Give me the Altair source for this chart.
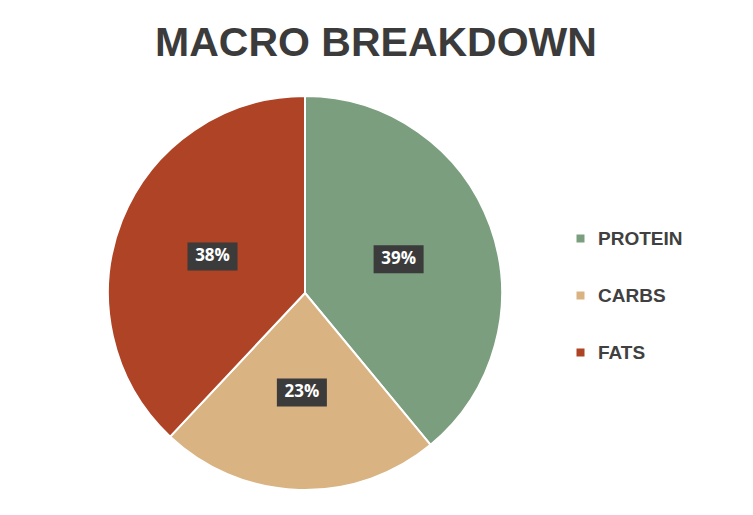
import altair as alt
import pandas as pd

categories = ["PROTEIN", "CARBS", "FATS"]
values = [39, 23, 38]
labels = ["39%", "23%", "38%"]
colors = ["#7A9E7E", "#D9B382", "#AE4325"]

df = pd.DataFrame({"cat": categories, "value": values, "label": labels, "idx": list(range(len(categories)))})

base = alt.Chart(df)

pie = base.mark_arc(stroke="white", strokeWidth=2).encode(
    theta=alt.Theta("value:Q", stack=True),
    color=alt.Color(
        "cat:N",
        sort=categories,
        scale=alt.Scale(domain=categories, range=colors),
        legend=alt.Legend(
            title=None,
            orient="none",
            legendX=463,
            legendY=133,
            direction="vertical",
            symbolType="square",
            symbolSize=64,
            symbolStrokeWidth=0,
            labelFont="Liberation Sans",
            labelFontSize=19,
            labelFontWeight="bold",
            labelColor="#404040",
            labelOffset=8,
            rowPadding=37,
            padding=0,
        ),
    ),
    order=alt.Order("idx:Q"),
)

pos = (
    base.transform_window(cum="sum(value)", sort=[alt.SortField("idx")])
    .transform_joinaggregate(total="sum(value)")
    .transform_calculate(
        ang="2*PI*(datum.cum - datum.value/2)/datum.total",
        lx="0.505*sin(datum.ang)",
        ly="0.505*cos(datum.ang)",
    )
)
xs = alt.X("lx:Q", scale=alt.Scale(domain=[-1, 1]), axis=None)
ys = alt.Y("ly:Q", scale=alt.Scale(domain=[-1, 1]), axis=None)

boxes = pos.mark_point(
    shape="M-1,-0.56L1,-0.56L1,0.56L-1,0.56Z",
    filled=True,
    size=2500,
    color="#3B3B3B",
    opacity=1,
    strokeWidth=0,
).encode(x=xs, y=ys)

text = pos.mark_text(
    font="Open Sans", fontWeight="bold", fontSize=17, color="white"
).encode(x=xs, y=ys, text="label:N")

chart = (
    alt.layer(pie, boxes, text)
    .properties(
        width=394,
        height=394,
        padding={"left": 100, "top": 88, "right": 243, "bottom": 13},
        autosize="none",
        title=alt.TitleParams(
            "MACRO BREAKDOWN",
            font="Liberation Sans",
            fontSize=41,
            fontWeight="bold",
            color="#3B3B3B",
            anchor="middle",
            baseline="alphabetic",
            dx=71,
            offset=-5,
        ),
        background="white",
    )
    .configure_view(stroke=None)
)

chart.save("out.html", embed_options={"renderer": "svg", "actions": False})
